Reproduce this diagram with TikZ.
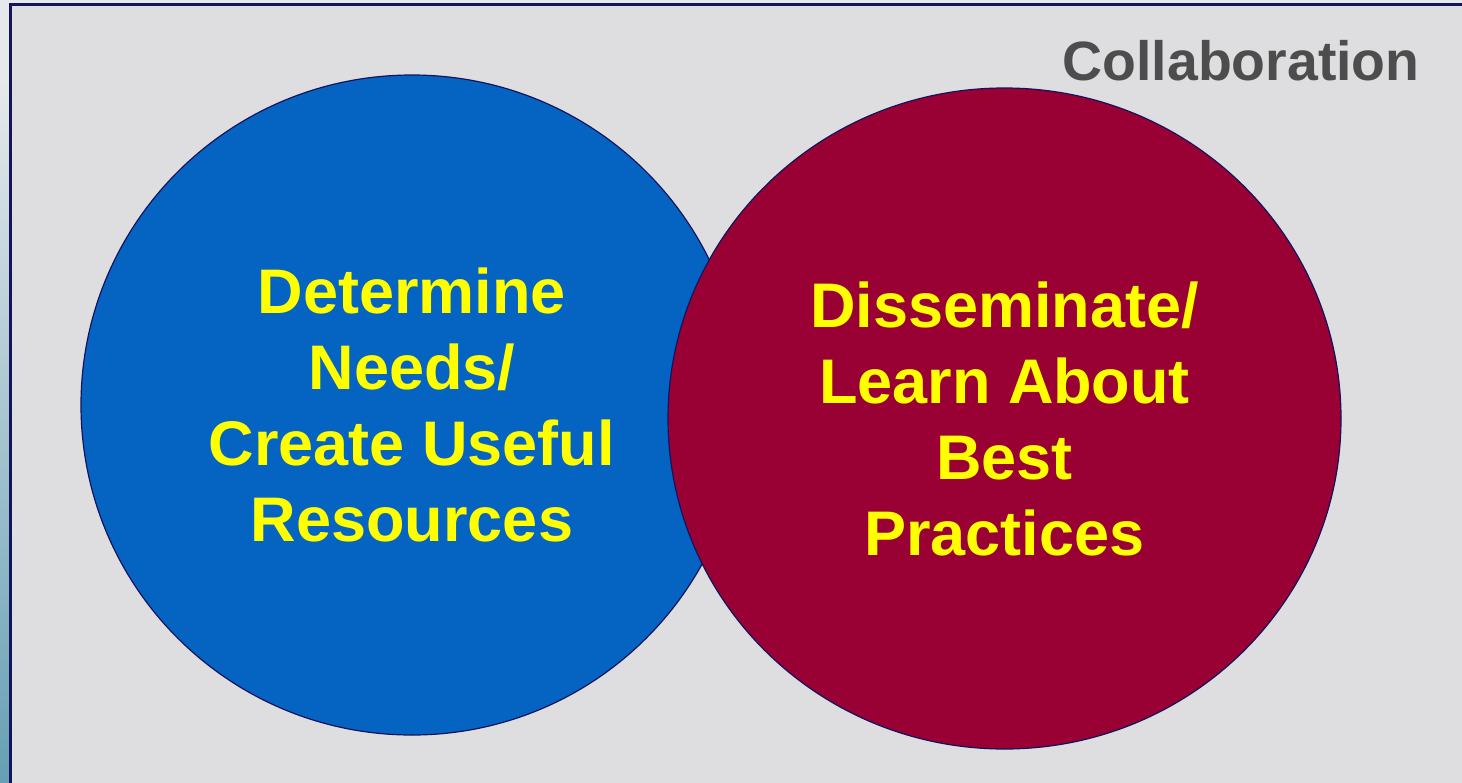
\documentclass[tikz,border=0pt]{standalone}
\usepackage{fontspec}
\setmainfont{Liberation Sans}
\usetikzlibrary{shapes.geometric}
\definecolor{framebg}{HTML}{DEDEE0}
\definecolor{framenavy}{HTML}{14145E}
\definecolor{stripgray}{HTML}{E6E9EB}
\definecolor{stripteal}{HTML}{66A0B4}
\definecolor{needblue}{HTML}{0563C1}
\definecolor{practred}{HTML}{990033}
\definecolor{titlegray}{HTML}{4D4D4D}
\definecolor{textyellow}{HTML}{FFFF00}
\tikzset{
  venn/.style={ellipse, draw=framenavy, line width=0.6pt, inner sep=0pt,
    text=textyellow, align=center,
    font=\fontsize{31.5}{38}\selectfont\bfseries},
}
\begin{document}
\begin{tikzpicture}[x=0.5pt, y=-0.5pt]
  \useasboundingbox (0,0) rectangle (1462,782);
  % page strip behind the frame
  \fill[stripgray] (0,0) rectangle (1462,782);
  \shade[top color=stripgray, bottom color=stripteal] (0,80) rectangle (10,782);
  \fill[stripgray] (0,0) rectangle (10,80);
  % frame
  \draw[framenavy, line width=1.5pt, fill=framebg] (10,4) rectangle (1480,800);
  \node[anchor=base east, inner sep=0pt, text=titlegray,
    font=\fontsize{27.7}{33}\selectfont\bfseries] (title) at (1420,80) {Collaboration};
  % the two circles
  \node[venn, fill=needblue, minimum width=331pt, minimum height=330pt] (needs) at (412,405)
    {Determine\\Needs/\\Create Useful\\Resources};
  \node[venn, fill=practred, minimum width=336.5pt, minimum height=330.5pt] (practices) at (1004.5,418.5)
    {Disseminate/\\Learn About\\Best\\Practices};
\end{tikzpicture}
\end{document}
